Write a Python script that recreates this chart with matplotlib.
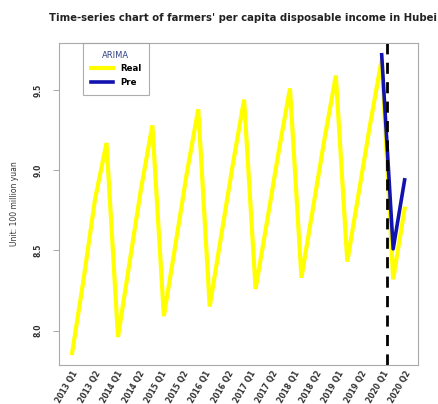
import matplotlib
matplotlib.use("Agg")
import matplotlib.pyplot as plt
import numpy as np

quarters = ["2013 Q1","2013 Q2","2013 Q3","2013 Q4",
            "2014 Q1","2014 Q2","2014 Q3","2014 Q4",
            "2015 Q1","2015 Q2","2015 Q3","2015 Q4",
            "2016 Q1","2016 Q2","2016 Q3","2016 Q4",
            "2017 Q1","2017 Q2","2017 Q3","2017 Q4",
            "2018 Q1","2018 Q2","2018 Q3","2018 Q4",
            "2019 Q1","2019 Q2","2019 Q3","2019 Q4",
            "2020 Q1","2020 Q2"]
real = [7.86, 8.32, 8.82, 9.17,
        7.96, 8.42, 8.88, 9.28,
        8.09, 8.53, 8.98, 9.38,
        8.15, 8.59, 9.03, 9.44,
        8.26, 8.68, 9.11, 9.51,
        8.33, 8.76, 9.19, 9.59,
        8.43, 8.86, 9.29, 9.69,
        8.32, 8.76]
pre_idx = [27, 28, 29]
pre = [9.72, 8.51, 8.94]
tick_labels = ["2013 Q1","2013 Q2","2014 Q1","2014 Q2","2015 Q1","2015 Q2",
               "2016 Q1","2016 Q2","2017 Q1","2017 Q2","2018 Q1","2018 Q2",
               "2019 Q1","2019 Q2","2020 Q1","2020 Q2"]
split_pos = 27.5

fig = plt.figure(figsize=(4.39, 4.04), dpi=100)
ax = fig.add_axes([0.134, 0.0965, 0.818, 0.7975])

x = np.arange(len(real))
ax.plot(x, real, color="#ffff00", lw=3.0, label="Real", solid_joinstyle="miter")
ax.plot(pre_idx, pre, color="#1212b0", lw=2.6, label="Pre")
ax.axvline(split_pos, color="black", lw=2.0, ls=(0, (4, 3)))

n = len(real)
pad = (n - 1) * 0.04
ax.set_xlim(-pad, n - 1 + pad)
lo, hi = min(min(real), min(pre)), max(max(real), max(pre))
ypad = (hi - lo) * 0.04
ax.set_ylim(lo - ypad, hi + ypad)

ax.set_xticks(np.linspace(0, n - 1, len(tick_labels)))
ax.set_xticklabels(tick_labels, rotation=60, ha="right", va="top",
                   rotation_mode="anchor", fontsize=5.5, fontweight="bold",
                   color="#333333")
ax.tick_params(axis="x", length=0, pad=3)

ax.set_yticks([8.0, 8.5, 9.0, 9.5])
ax.set_yticklabels(["8.0", "8.5", "9.0", "9.5"], rotation=90, va="center",
                   fontsize=5.5, fontweight="bold", color="#333333")
ax.tick_params(axis="y", length=4, width=0.6, color="#999999", pad=8)

for s in ax.spines.values():
    s.set_color("#aaaaaa")
    s.set_linewidth(0.8)

ax.set_ylabel("Unit: 100 million yuan", fontsize=5.5, color="#333333", labelpad=10)

fig.text(0.995, 0.955,
         "Time-series chart of farmers' per capita disposable income in Hubei",
         fontsize=7.3, fontweight="bold", color="#222222", ha="right", va="center")

leg = ax.legend(loc="upper left", bbox_to_anchor=(0.067, 1.0), borderaxespad=0,
                title="ARIMA", fontsize=6.2, title_fontsize=6, frameon=True,
                fancybox=False, edgecolor="#999999", handlelength=2.6,
                borderpad=0.9, labelspacing=0.55, handletextpad=0.8)
for t in leg.get_texts():
    t.set_fontweight("bold")
leg.get_title().set_color("#334488")
leg.get_frame().set_linewidth(0.8)

fig.savefig("out.png", dpi=100)
